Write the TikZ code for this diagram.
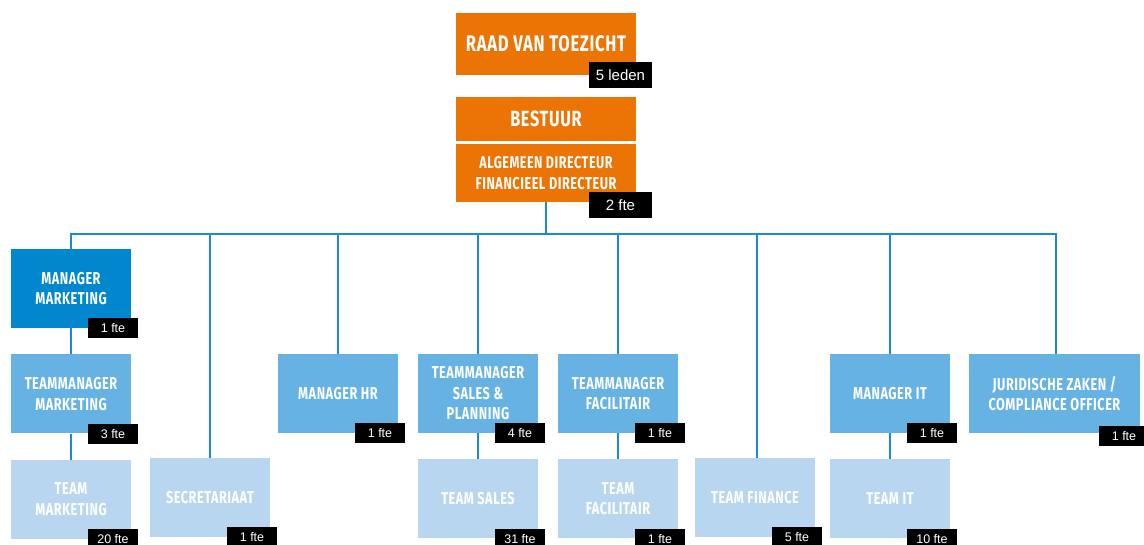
\documentclass[tikz,border=0pt]{standalone}
\usepackage{fontspec}
\newfontfamily\boxfont[FakeStretch=0.74,LetterSpace=3]{Fira Sans}
\newfontfamily\ftefont{Liberation Sans}
\usepackage{tikz}
\usetikzlibrary{positioning}

\definecolor{oranje}{HTML}{EC7405}
\definecolor{donkerblauw}{HTML}{0087CD}
\definecolor{middenblauw}{HTML}{66B2E3}
\definecolor{lichtblauw}{HTML}{B9D6F1}
\definecolor{lijnblauw}{HTML}{1A8BD3}

\begin{document}
\begin{tikzpicture}[x=1pt,y=-1pt,node distance=26pt,
    box/.style={inner sep=0pt,align=center,text=white,minimum width=120pt,minimum height=79pt,
      font=\boxfont\bfseries\fontsize{17.2}{20.5}\selectfont},
    top/.style={box,fill=oranje,minimum width=180pt},
    mgr/.style={box,fill=donkerblauw},
    tm/.style={box,fill=middenblauw},
    team/.style={box,fill=lichtblauw},
    fte/.style={fill=black,text=white,inner sep=0pt,minimum width=50pt,minimum height=20pt,
      font=\ftefont\fontsize{12.5}{14}\selectfont,anchor=east},
    bigfte/.style={fte,minimum width=63pt,minimum height=26pt,font=\ftefont\fontsize{15}{17}\selectfont},
    lijn/.style={draw=lijnblauw,line width=2pt}]
    \useasboundingbox (0,0) rectangle (1144,545);

    % top
    \node[top,minimum height=62pt] (rvt) at (546,44) {\fontsize{22.5}{24}\selectfont RAAD VAN TOEZICHT};
    \node[bigfte] (rvt_fte) at ([xshift=16pt]rvt.south east) {5 leden};
    \node[top,minimum height=44pt] (bestuur) at (546,119) {\fontsize{22}{24}\selectfont BESTUUR};
    \node[top,minimum height=58pt] (dir) at (546,173) {\fontsize{17}{19.5}\selectfont ALGEMEEN DIRECTEUR\\FINANCIEEL DIRECTEUR};
    \node[bigfte] (dir_fte) at ([xshift=16pt,yshift=-3pt]dir.south east) {2 fte};
    \coordinate (bus) at (546,234);

    % managers
    \node[mgr] (m_mark) at (71,288.5) {MANAGER\\MARKETING};
    \node[tm] (tm_mark) [below=of m_mark] {TEAMMANAGER\\MARKETING};
    \node[team] (t_mark) [below=of tm_mark] {TEAM\\MARKETING};
    \node[team] (secr) at (210,497.5) {SECRETARIAAT};
    \node[tm] (m_hr) at (338,393.5) {MANAGER HR};
    \node[tm] (tm_sales) at (478,393.5) {TEAMMANAGER\\SALES \&\\PLANNING};
    \node[team] (t_sales) [below=of tm_sales] {TEAM SALES};
    \node[tm] (tm_fac) at (618,393.5) {TEAMMANAGER\\FACILITAIR};
    \node[team] (t_fac) [below=of tm_fac] {TEAM\\FACILITAIR};
    \node[team] (t_fin) at (755,497.5) {TEAM FINANCE};
    \node[tm] (m_it) at (890,393.5) {MANAGER IT};
    \node[team] (t_it) [below=of m_it] {TEAM IT};
    \node[tm,minimum width=171pt] (jur) at (1054.5,393.5) {JURIDISCHE ZAKEN /\\COMPLIANCE OFFICER};

    % fte
    \node[fte] (m_mark_fte) at ([xshift=7pt]m_mark.south east) {1 fte};
    \node[fte] (tm_mark_fte) at ([xshift=7pt]tm_mark.south east) {3 fte};
    \node[fte] (t_mark_fte) at ([xshift=7pt]t_mark.south east) {20 fte};
    \node[fte] (secr_fte) at ([xshift=7pt]secr.south east) {1 fte};
    \node[fte] (m_hr_fte) at ([xshift=7pt]m_hr.south east) {1 fte};
    \node[fte] (tm_sales_fte) at ([xshift=7pt]tm_sales.south east) {4 fte};
    \node[fte] (t_sales_fte) at ([xshift=7pt]t_sales.south east) {31 fte};
    \node[fte] (tm_fac_fte) at ([xshift=7pt]tm_fac.south east) {1 fte};
    \node[fte] (t_fac_fte) at ([xshift=7pt]t_fac.south east) {1 fte};
    \node[fte] (t_fin_fte) at ([xshift=7pt]t_fin.south east) {5 fte};
    \node[fte] (m_it_fte) at ([xshift=7pt]m_it.south east) {1 fte};
    \node[fte] (t_it_fte) at ([xshift=7pt]t_it.south east) {10 fte};
    \node[fte] (jur_fte) at ([xshift=9pt,yshift=-3pt]jur.south east) {1 fte};

    \path[lijn]
    (dir.south) -- (bus)
    (bus) -| (m_mark.north)
    (bus) -| (secr.north)
    (bus) -| (m_hr.north)
    (bus) -| (tm_sales.north)
    (bus) -| (tm_fac.north)
    (bus) -| ([xshift=2pt]t_fin.north)
    (bus) -| (m_it.north)
    (bus) -| ([xshift=1.5pt]jur.north)
    (m_mark) -- (tm_mark)
    (tm_mark) -- (t_mark)
    (tm_sales) -- (t_sales)
    (tm_fac) -- (t_fac)
    (m_it) -- (t_it);
  \end{tikzpicture}
\end{document}
